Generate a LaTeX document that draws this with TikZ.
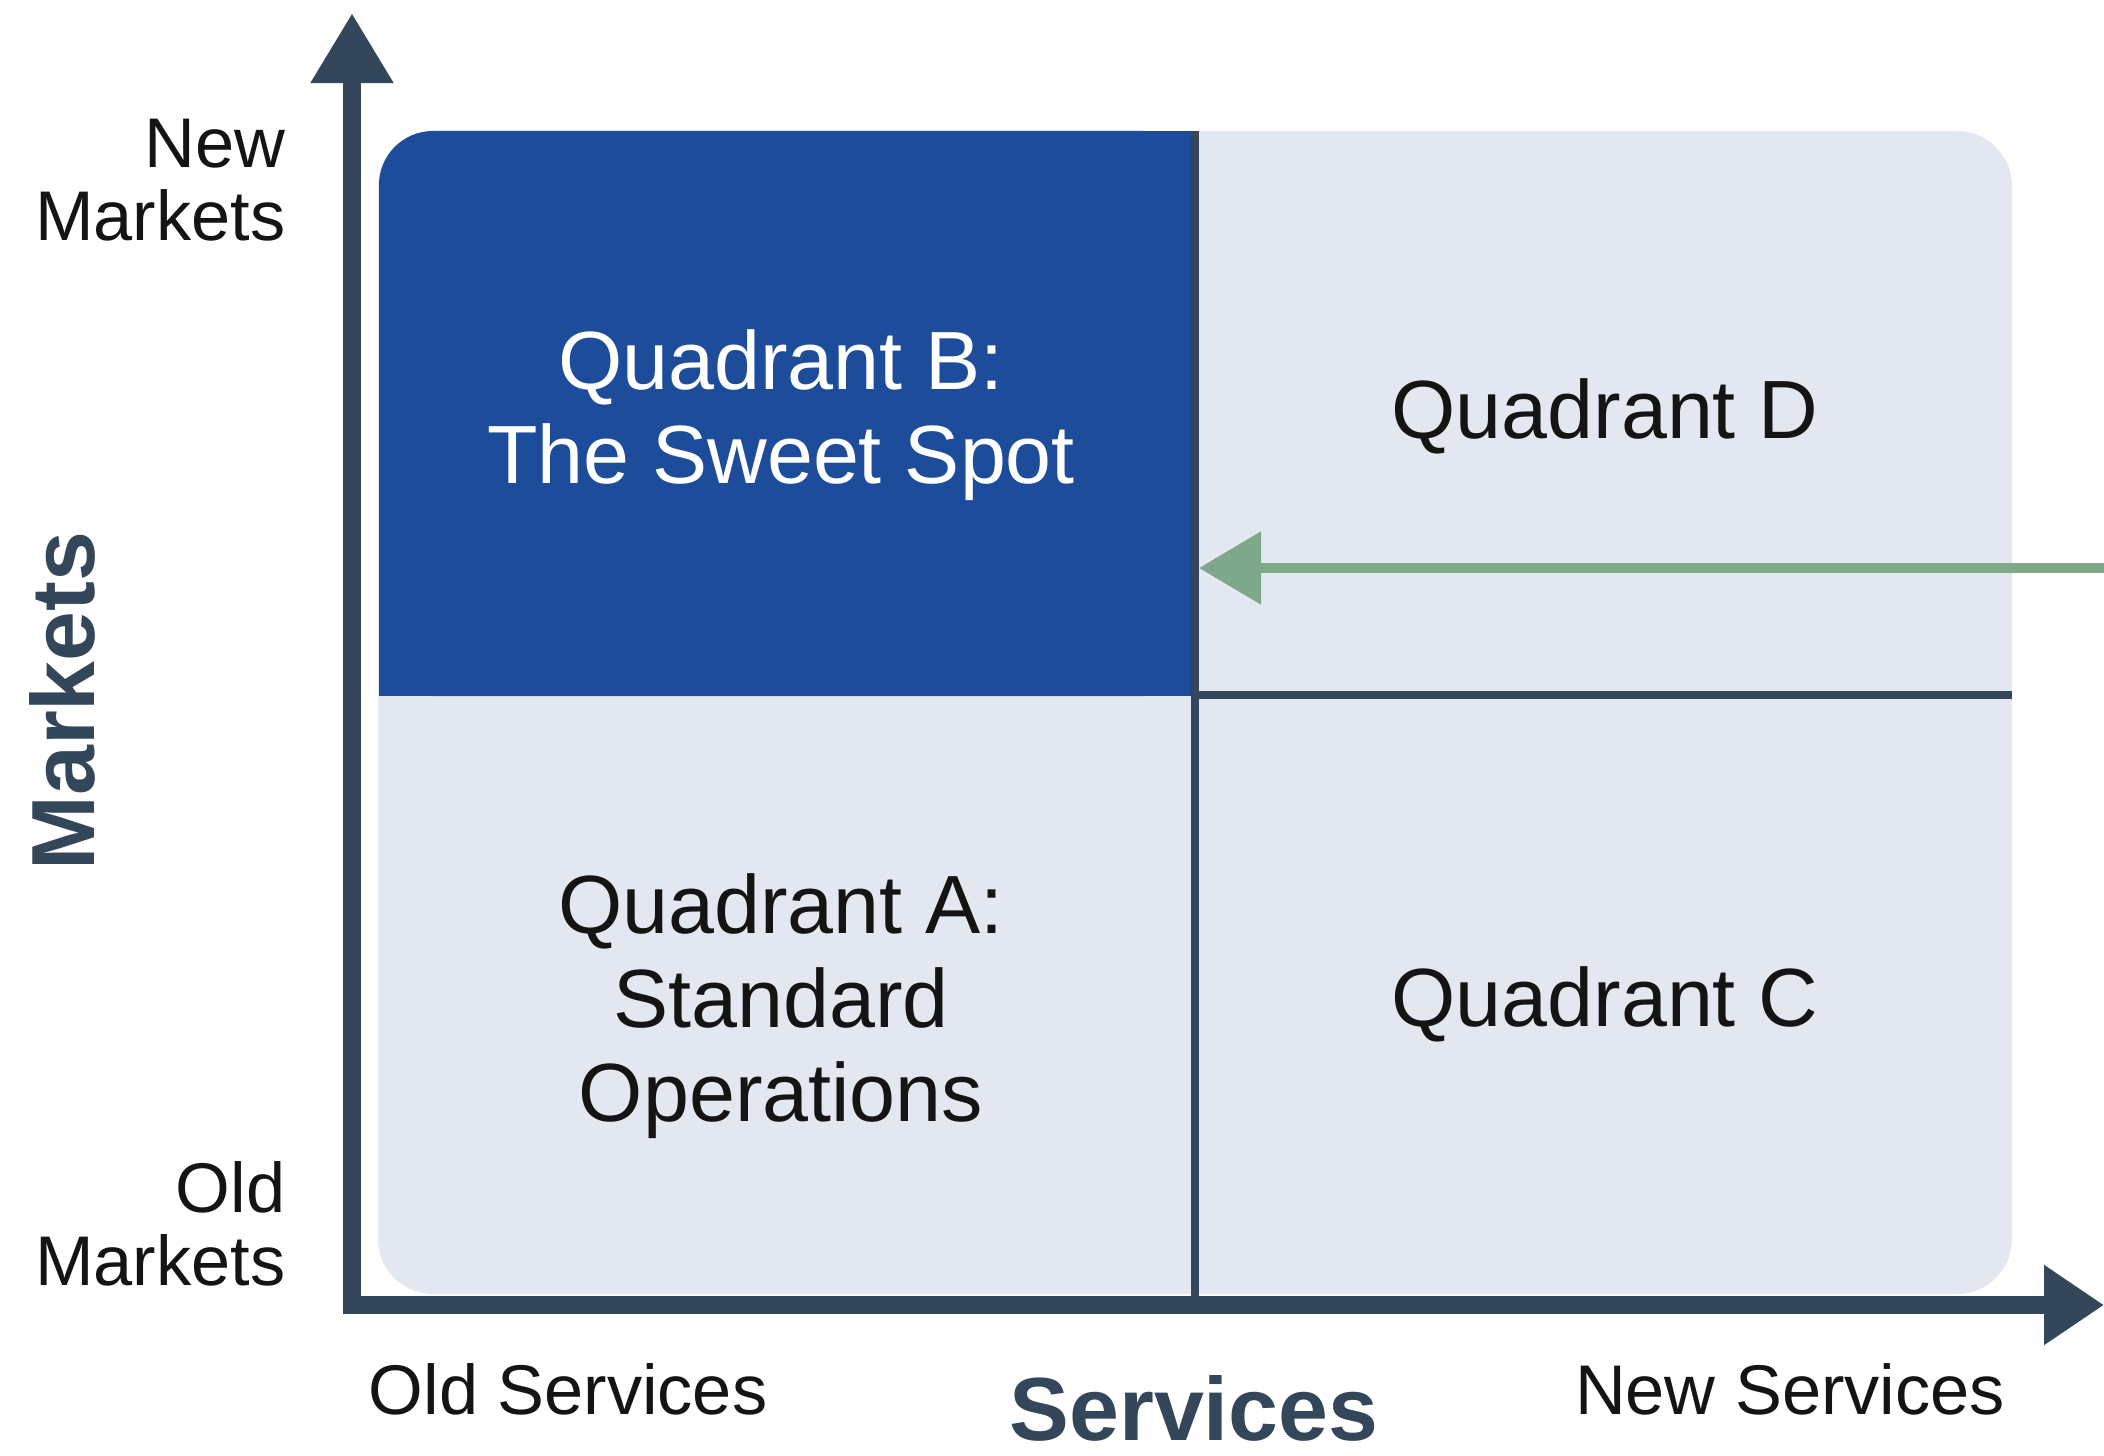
\documentclass[tikz,border=0pt]{standalone}
\usepackage{fontspec}
\setmainfont{Liberation Sans}
\usetikzlibrary{arrows.meta}
\definecolor{axiscol}{HTML}{34475A}
\definecolor{bluequad}{HTML}{1D4C9B}
\definecolor{grayquad}{HTML}{E3E7EF}
\definecolor{greenarr}{HTML}{7DA88A}
\definecolor{txt}{HTML}{141414}
\tikzset{
  axisline/.style={draw=axiscol, line width=5.1pt},
  divider/.style={draw=axiscol, line width=2.1pt},
  endlabel/.style={font=\fontsize{20}{20.7}\selectfont, text=txt, inner sep=0pt},
  quadlabel/.style={font=\fontsize{23.5}{26.7}\selectfont, align=center, inner sep=0pt},
  axistitle/.style={font=\bfseries\fontsize{25.5}{28}\selectfont, text=axiscol, inner sep=0pt},
}
\begin{document}
\begin{tikzpicture}[x=0.01cm, y=-0.01cm]
\useasboundingbox (0,0) rectangle (2104,1455);
% grid background
\fill[grayquad, rounded corners=0.55cm] (378,131) rectangle (2012,1294);
% blue quadrant with only top-left corner rounded
\fill[bluequad, rounded corners=0.54cm] (379,131) rectangle (1197,696);
\fill[bluequad] (1100,131) rectangle (1197,696);
\fill[bluequad] (379,600) rectangle (1197,696);
% coordinates
\coordinate (vtop) at (1195,131);
\coordinate (vbot) at (1195,1300);
\coordinate (hleft) at (1195,695);
\coordinate (hright) at (2012,695);
\coordinate (ybase) at (352,1313);
\coordinate (ytip) at (352,13);
\coordinate (xbase) at (343,1305);
\coordinate (xtip) at (2104,1305);
\coordinate (gstart) at (2104,568);
\coordinate (gend) at (1199,568);
% dividers
\draw[divider] (vtop) -- (vbot);
\draw[divider] (hleft) -- (hright);
% axes
\draw[axisline, -{Triangle[length=0.70cm, width=0.78cm]}] (ybase) -- (ytip);
\draw[axisline, -{Triangle[length=0.60cm, width=0.76cm]}] (xbase) -- (xtip);
% green arrow
\draw[draw=greenarr, line width=2.6pt, -{Triangle[length=0.62cm, width=0.71cm]}] (gstart) -- (gend);
% quadrant labels
\node[quadlabel, text=white] (qb) at (781,415) {Quadrant B:\\The Sweet Spot};
\node[quadlabel, text=txt] (qd) at (1605,416) {Quadrant D};
\node[quadlabel, text=txt] (qa) at (781,1006) {Quadrant A:\\Standard\\Operations};
\node[quadlabel, text=txt] (qc) at (1605,1004) {Quadrant C};
% axis end labels
\node[endlabel, align=right, anchor=east] (newm) at (286,180) {New\\Markets};
\node[endlabel, align=right, anchor=east] (oldm) at (286,1224) {Old\\Markets};
\node[endlabel] (olds) at (568,1389) {Old Services};
\node[endlabel] (news) at (1790,1389) {New Services};
% axis titles
\node[axistitle, rotate=90] (mk) at (62,701) {Markets};
\node[axistitle] (sv) at (1194,1408) {Services};
\end{tikzpicture}
\end{document}
